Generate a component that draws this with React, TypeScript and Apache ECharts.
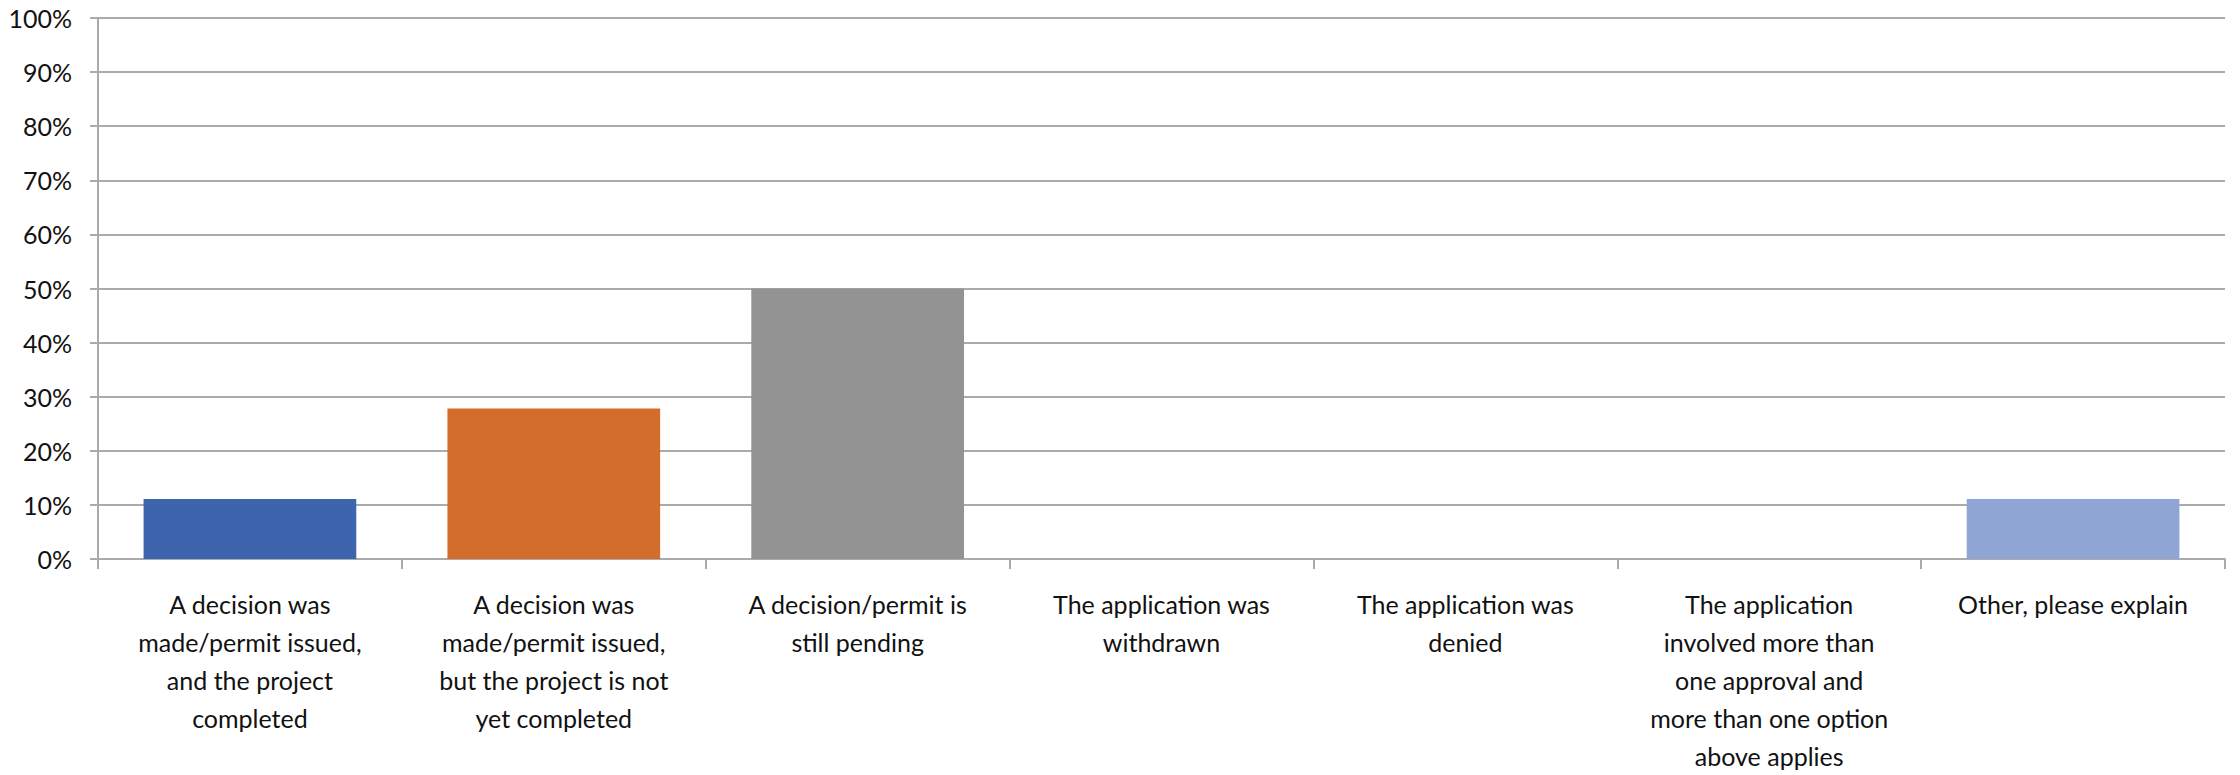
import React, { useEffect, useRef } from "react";
import * as echarts from "echarts";

const categories = [
  "A decision was\nmade/permit issued,\nand the project\ncompleted",
  "A decision was\nmade/permit issued,\nbut the project is not\nyet completed",
  "A decision/permit is\nstill pending",
  "The application was\nwithdrawn",
  "The application was\ndenied",
  "The application\ninvolved more than\none approval and\nmore than one option\nabove applies",
  "Other, please explain",
];
const values = [0.111, 0.278, 0.5, 0, 0, 0, 0.111];
const barColors = ["#3D64AD", "#D36D2C", "#939393", "#3D64AD", "#3D64AD", "#3D64AD", "#8FA5D3"];

export default function App() {
  const ref = useRef<HTMLDivElement>(null);
  useEffect(() => {
    if (!ref.current) return;
    const chart = echarts.init(ref.current, undefined, { renderer: "svg" });
    const font = "Lato, 'Open Sans', sans-serif";
    chart.setOption({
      animation: false,
      backgroundColor: "#ffffff",
      grid: { left: 98, right: 15, top: 18, bottom: 210, containLabel: false },
      xAxis: {
        type: "category",
        data: categories,
        boundaryGap: true,
        axisLine: { show: true, lineStyle: { color: "#ABABAB", width: 2 } },
        axisTick: { show: true, alignWithLabel: false, interval: 0, length: 10, lineStyle: { color: "#ABABAB", width: 2 } },
        axisLabel: {
          interval: 0,
          margin: 26,
          color: "#111",
          fontFamily: font,
          fontSize: 25,
          lineHeight: 38,
          align: "center",
          verticalAlign: "top",
        },
        splitLine: { show: false },
      },
      yAxis: {
        type: "value",
        min: 0,
        max: 1,
        interval: 0.1,
        axisLine: { show: true, lineStyle: { color: "#ABABAB", width: 2 } },
        axisTick: { show: true, length: 8, lineStyle: { color: "#ABABAB", width: 2 } },
        axisLabel: {
          margin: 26,
          color: "#111",
          fontFamily: font,
          fontSize: 25,
          formatter: (v: number) => Math.round(v * 100) + "%",
        },
        splitLine: { show: true, lineStyle: { color: "#ABABAB", width: 2 } },
      },
      series: [
        {
          type: "bar",
          data: values.map((v, i) => ({ value: v, itemStyle: { color: barColors[i] } })),
          barCategoryGap: "30%",
        },
      ],
    });
    return () => chart.dispose();
  }, []);
  return (
    <div
      ref={ref}
      style={{ position: "absolute", left: 0, top: 0, width: 2240, height: 775, background: "#fff" }}
    />
  );
}
